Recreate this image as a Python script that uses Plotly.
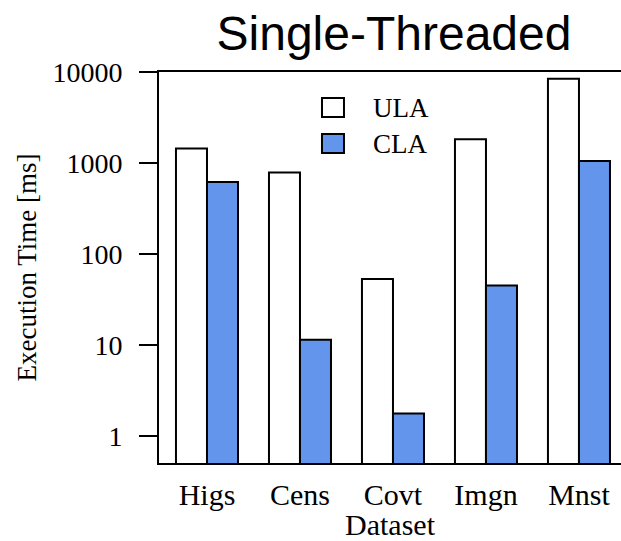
import plotly.graph_objects as go

datasets = ["Higs", "Cens", "Covt", "Imgn", "Mnst"]
ula_ms = [1440, 785, 53, 1820, 8450]
cla_ms = [620, 11.4, 1.77, 45, 1050]
series_names = ["ULA", "CLA"]
y_tickvals = [1, 10, 100, 1000, 10000]
y_ticktext = ["1", "10", "100", "1000", "10000"]

BLUE = "#6495ED"
SERIF = "Liberation Serif, Times New Roman, serif"
SANS = "Liberation Sans, Arial, sans-serif"

fig = go.Figure()
fig.add_trace(go.Bar(x=datasets, y=ula_ms, name=series_names[0],
                     marker=dict(color="white", line=dict(color="black", width=2)),
                     showlegend=False))
fig.add_trace(go.Bar(x=datasets, y=cla_ms, name=series_names[1],
                     marker=dict(color=BLUE, line=dict(color="black", width=2)),
                     showlegend=False))

# custom legend (paper coordinates)
legend_items = [(series_names[0], "white", 0.9335, 0.8849, 0.9092),
                (series_names[1], BLUE, 0.8414, 0.7928, 0.8171)]
for name, col, y1, y0, ym in legend_items:
    fig.add_shape(type="rect", xref="paper", yref="paper",
                  x0=0.3528, x1=0.4004, y0=y0, y1=y1,
                  fillcolor=col, line=dict(color="black", width=2))
    fig.add_annotation(xref="paper", yref="paper", x=0.458, y=ym,
                       text=name, showarrow=False, xanchor="left", yanchor="middle",
                       font=dict(family=SERIF, size=27, color="black"))

fig.update_layout(
    width=621, height=541,
    margin=dict(l=159, r=0, t=72, b=78),
    paper_bgcolor="white", plot_bgcolor="white",
    barmode="group", bargap=0.333, bargroupgap=0,
    title=dict(text="Single-Threaded", x=(394) / 621, xanchor="center",
               y=1 - 33 / 541, yanchor="middle",
               font=dict(family=SANS, size=48, color="black")),
    font=dict(family=SERIF, size=28, color="black"),
)
fig.update_xaxes(
    type="category", range=[-0.516, 4.452],
    showline=True, linecolor="black", linewidth=2, mirror=True,
    ticks="", showgrid=False, zeroline=False,
    ticklabelstandoff=4,
    tickfont=dict(family=SERIF, size=30, color="black"),
    title=dict(text="Dataset", font=dict(family=SERIF, size=30, color="black"), standoff=0),
)
fig.update_yaxes(
    type="log", range=[-0.297, 4],
    tickvals=y_tickvals, ticktext=y_ticktext,
    showline=True, linecolor="black", linewidth=2, mirror=False,
    ticks="outside", ticklen=18, tickwidth=2, tickcolor="black",
    ticklabelstandoff=11,
    showgrid=False, zeroline=False,
    tickfont=dict(family=SERIF, size=28, color="black"),
    title=dict(text="Execution Time [ms]", font=dict(family=SERIF, size=27, color="black"), standoff=8),
)

fig.write_html("out.html")
